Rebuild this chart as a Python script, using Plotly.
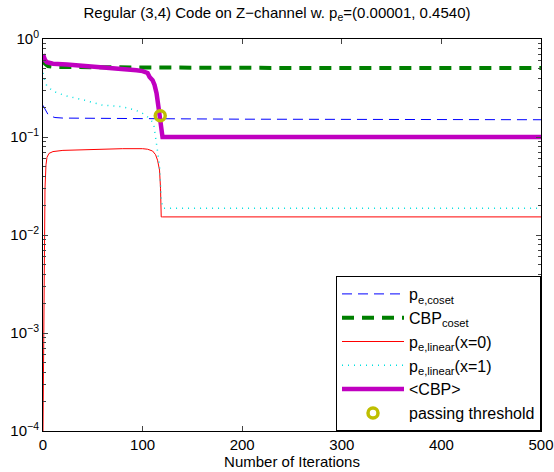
import plotly.graph_objects as go

# ---- data ----
it_pe_coset = [0, 1, 2, 3, 5, 8, 12, 20, 40, 100, 200, 300, 400, 500]
pe_coset = [0.21, 0.2, 0.19, 0.18, 0.17, 0.163, 0.158, 0.156, 0.155, 0.154, 0.152, 0.151, 0.151, 0.15]

it_cbp_coset = [0, 2, 5, 10, 50, 100, 200, 300, 400, 500]
cbp_coset = [0.62, 0.56, 0.53, 0.52, 0.515, 0.51, 0.508, 0.506, 0.505, 0.505]

it_lin0 = [0, 1, 2, 3, 4, 6, 10, 20, 50, 80, 100, 105, 110, 113, 115, 117, 118, 118.7, 120, 200, 300, 400, 500]
pe_lin0 = [1e-4, 0.003, 0.03, 0.052, 0.062, 0.068, 0.071, 0.073, 0.075, 0.076, 0.076, 0.075, 0.072, 0.066,
           0.058, 0.046, 0.03, 0.0153, 0.0153, 0.0153, 0.0153, 0.0153, 0.0153]

it_lin1 = [0, 1, 2, 4, 7, 10, 15, 25, 40, 59, 79, 92, 99, 105, 111, 113.7, 115.3, 117, 118, 118.7, 120.3,
           200, 300, 400, 500]
pe_lin1 = [0.45, 0.4, 0.37, 0.33, 0.31, 0.295, 0.28, 0.26, 0.24, 0.212, 0.204, 0.189, 0.177, 0.16, 0.139,
           0.093, 0.068, 0.05, 0.034, 0.023, 0.0188, 0.0188, 0.0188, 0.0188, 0.0188]

it_cbp = [0, 1, 2, 4, 6, 10, 24, 40, 60, 80, 94, 100, 105, 107, 110, 112, 114, 116, 117, 118, 119, 120,
          200, 300, 400, 500]
cbp = [0.70, 0.64, 0.61, 0.58, 0.57, 0.56, 0.55, 0.535, 0.52, 0.5, 0.48, 0.47, 0.45, 0.41, 0.38, 0.34,
       0.28, 0.2, 0.165, 0.12, 0.1, 0.1, 0.1, 0.1, 0.1, 0.1]

thr_iter = [117.7]
thr_val = [0.165]

y_tickvals = [1e-4, 1e-3, 1e-2, 1e-1, 1]
y_ticktext = ["10<sup>−4</sup>", "10<sup>−3</sup>", "10<sup>−2</sup>", "10<sup>−1</sup>", "10<sup>0</sup>"]
x_tickvals = [0, 100, 200, 300, 400, 500]

minor_vals = [m * 10 ** e for e in range(-4, 0) for m in range(2, 10)]

fig = go.Figure()
fig.add_trace(go.Scatter(x=it_pe_coset, y=pe_coset, mode="lines", name="p<sub>e,coset</sub>",
                         line=dict(color="#0000ff", width=1, dash="10px,6px")))
fig.add_trace(go.Scatter(x=it_cbp_coset, y=cbp_coset, mode="lines", name="CBP<sub>coset</sub>",
                         line=dict(color="#008000", width=4, dash="12px,8px")))
fig.add_trace(go.Scatter(x=it_lin0, y=pe_lin0, mode="lines", name="p<sub>e,linear</sub>(x=0)",
                         line=dict(color="#ff0000", width=1)))
fig.add_trace(go.Scatter(x=it_lin1, y=pe_lin1, mode="lines", name="p<sub>e,linear</sub>(x=1)",
                         line=dict(color="#00e0e0", width=1.5, dash="1px,5px")))
fig.add_trace(go.Scatter(x=it_cbp, y=cbp, mode="lines", name="&lt;CBP&gt;",
                         line=dict(color="#c000c0", width=4.5)))
fig.add_trace(go.Scatter(x=thr_iter, y=thr_val, mode="markers", name="passing threshold",
                         marker=dict(symbol="circle-open", size=10, color="#bfbf00",
                                     line=dict(width=3.5, color="#bfbf00"))))

font = "Liberation Sans, Arial, Helvetica, sans-serif"
fig.update_layout(
    width=554, height=472,
    margin=dict(l=43, r=13, t=39, b=41),
    paper_bgcolor="white", plot_bgcolor="white",
    font=dict(family=font, size=15, color="black"),
    title=dict(text="Regular (3,4) Code on Z−channel w. p<sub>e</sub>=(0.00001, 0.4540)",
               x=0.5, xanchor="center", y=0.985, yanchor="top", font=dict(size=15)),
    showlegend=True,
    legend=dict(x=1, xanchor="right", y=0, yanchor="bottom", bgcolor="white",
                bordercolor="black", borderwidth=1, font=dict(size=16),
                itemwidth=62, tracegroupgap=0),
)
fig.update_xaxes(range=[0, 500], tickvals=x_tickvals, ticks="inside", ticklen=5,
                 showline=True, linecolor="black", linewidth=1, mirror="ticks",
                 showgrid=False, zeroline=False, automargin=False,
                 title=dict(text="Number of Iterations", standoff=2, font=dict(size=15)))
fig.update_yaxes(type="log", range=[-4, 0], tickvals=y_tickvals, ticktext=y_ticktext,
                 ticks="inside", ticklen=5, automargin=False,
                 showline=True, linecolor="black", linewidth=1, mirror="ticks",
                 showgrid=False, zeroline=False,
                 minor=dict(tickvals=minor_vals, ticks="inside", ticklen=3, showgrid=False))

fig.write_html("out.html", config={"displayModeBar": False},
               post_script="document.body.style.margin='0';document.body.style.overflow='hidden';")
